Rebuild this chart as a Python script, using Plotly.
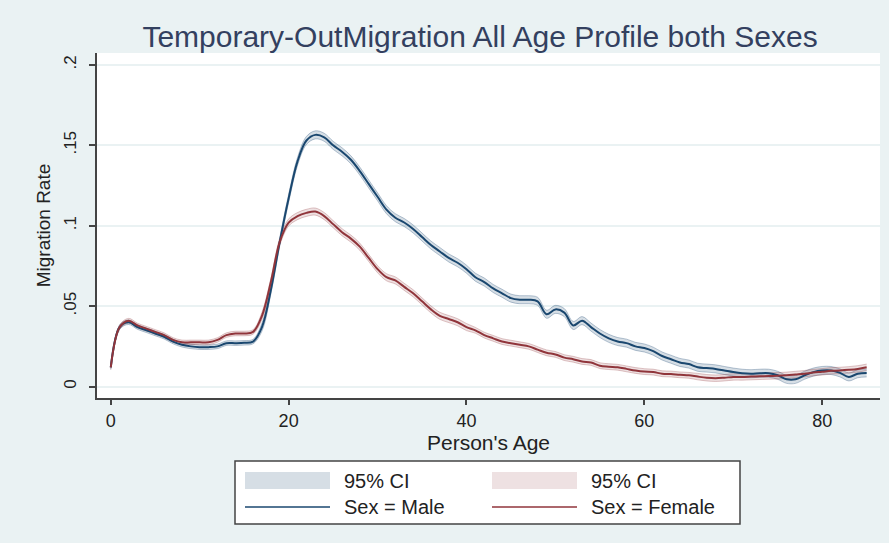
import plotly.graph_objects as go

ages = list(range(0, 86))

male_rate = [0.012, 0.037, 0.040, 0.037, 0.035, 0.033, 0.031, 0.028, 0.026, 0.025,
             0.0245, 0.0245, 0.025, 0.027, 0.027, 0.0272, 0.028, 0.037, 0.060, 0.090,
             0.117, 0.140, 0.153, 0.1565, 0.155, 0.150, 0.146, 0.141, 0.134, 0.126,
             0.118, 0.110, 0.105, 0.102, 0.098, 0.093, 0.088, 0.084, 0.080, 0.077,
             0.073, 0.068, 0.065, 0.061, 0.058, 0.055, 0.054, 0.054, 0.053, 0.045,
             0.048, 0.046, 0.038, 0.041, 0.037, 0.033, 0.030, 0.028, 0.027, 0.025,
             0.024, 0.022, 0.019, 0.017, 0.015, 0.014, 0.012, 0.0115, 0.011, 0.010,
             0.009, 0.0083, 0.008, 0.0083, 0.0083, 0.007, 0.0045, 0.0045, 0.007, 0.009,
             0.010, 0.010, 0.0085, 0.006, 0.008, 0.0085]

female_rate = [0.012, 0.037, 0.041, 0.038, 0.036, 0.034, 0.032, 0.029, 0.0275, 0.0275,
               0.0275, 0.0275, 0.029, 0.032, 0.033, 0.033, 0.034, 0.044, 0.065, 0.090,
               0.102, 0.106, 0.108, 0.1088, 0.106, 0.101, 0.096, 0.092, 0.087, 0.080,
               0.073, 0.068, 0.066, 0.062, 0.058, 0.053, 0.048, 0.044, 0.042, 0.040,
               0.037, 0.035, 0.032, 0.030, 0.028, 0.027, 0.026, 0.025, 0.023, 0.021,
               0.020, 0.018, 0.017, 0.0156, 0.015, 0.013, 0.0124, 0.012, 0.011, 0.010,
               0.0093, 0.009, 0.008, 0.0078, 0.0073, 0.007, 0.0062, 0.0055, 0.0052, 0.0055,
               0.006, 0.006, 0.0062, 0.0064, 0.0066, 0.0067, 0.007, 0.0075, 0.008, 0.0087,
               0.0092, 0.0098, 0.010, 0.0104, 0.011, 0.012]

# 95% CI half-widths by age
male_ci = [0.0014] * 17 + [0.0025] * 44 + [0.0025] * 25
female_ci = [0.0014] * 17 + [0.0022] * 24 + [0.0018] * 25 + [0.0020] * 20

y_ticks = [0, 0.05, 0.1, 0.15, 0.2]
y_tick_labels = ["0", ".05", ".1", ".15", ".2"]
x_ticks = [0, 20, 40, 60, 80]

legend_labels = ["95% CI", "95% CI", "Sex = Male", "Sex = Female"]

MALE = "#1a476f"
FEMALE = "#90353b"
MALE_FILL = "rgba(26,71,111,0.18)"
FEMALE_FILL = "rgba(144,53,59,0.15)"
FONT = "Liberation Sans, Arial, sans-serif"

fig = go.Figure()


def add_band(rate, ci, fillc, edgec, name):
    upper = [r + c for r, c in zip(rate, ci)]
    lower = [r - c for r, c in zip(rate, ci)]
    fig.add_trace(go.Scatter(x=ages, y=upper, mode="lines", line=dict(color=edgec, width=1, shape="spline"),
                             showlegend=False, hoverinfo="skip"))
    fig.add_trace(go.Scatter(x=ages, y=lower, mode="lines", line=dict(color=edgec, width=1, shape="spline"),
                             fill="tonexty", fillcolor=fillc, name=name, showlegend=False, hoverinfo="skip"))


add_band(male_rate, male_ci, MALE_FILL, "rgba(26,71,111,0.30)", legend_labels[0])
add_band(female_rate, female_ci, FEMALE_FILL, "rgba(144,53,59,0.28)", legend_labels[1])

fig.add_trace(go.Scatter(x=ages, y=male_rate, mode="lines", name=legend_labels[2], showlegend=False,
                         line=dict(color=MALE, width=2, shape="spline")))
fig.add_trace(go.Scatter(x=ages, y=female_rate, mode="lines", name=legend_labels[3], showlegend=False,
                         line=dict(color=FEMALE, width=2, shape="spline")))

# plot-area geometry in pixels (for the hand-built Stata-style legend box)
L, R, T, B = 97, 880, 53, 398
W, H = R - L, B - T


def px(x):
    return (x - L) / W


def py(y):
    return (B - y) / H


shapes = [
    dict(type="rect", xref="paper", yref="paper", x0=px(235), x1=px(740), y0=py(524), y1=py(461),
         fillcolor="white", line=dict(color="#444444", width=1.5), layer="above"),
    dict(type="rect", xref="paper", yref="paper", x0=px(245), x1=px(330), y0=py(489), y1=py(472),
         fillcolor=MALE_FILL, line=dict(width=0), layer="above"),
    dict(type="rect", xref="paper", yref="paper", x0=px(492), x1=px(577), y0=py(489), y1=py(472),
         fillcolor=FEMALE_FILL, line=dict(width=0), layer="above"),
    dict(type="line", xref="paper", yref="paper", x0=px(245), x1=px(330), y0=py(507), y1=py(507),
         line=dict(color=MALE, width=1.5), layer="above"),
    dict(type="line", xref="paper", yref="paper", x0=px(492), x1=px(577), y0=py(507), y1=py(507),
         line=dict(color=FEMALE, width=1.5), layer="above"),
]

annotations = []
for label, lx, ly in zip(legend_labels, [342, 589, 342, 589], [481, 481, 507, 507]):
    annotations.append(dict(text=label, xref="paper", yref="paper", x=px(lx), y=py(ly),
                            xanchor="left", yanchor="middle", showarrow=False,
                            font=dict(family=FONT, size=20, color="#222222")))

fig.update_layout(
    width=889, height=543,
    margin=dict(l=L, r=889 - R, t=T, b=543 - B),
    paper_bgcolor="#eaf2f3",
    plot_bgcolor="white",
    font=dict(family=FONT, color="#222222", size=16),
    showlegend=False,
    title=dict(text="Temporary-OutMigration All Age Profile both Sexes",
               x=0.54, xanchor="center", y=0.932, yanchor="middle",
               font=dict(family=FONT, size=30, color="#33405f")),
    xaxis=dict(range=[-1.55, 86.5], tickvals=x_ticks, showgrid=False, zeroline=False, automargin=False,
               showline=True, linecolor="#444444", linewidth=2,
               ticks="outside", ticklen=5, tickwidth=1.5, tickcolor="#444444",
               tickfont=dict(size=18), title=dict(text="Person's Age", standoff=0, font=dict(size=21))),
    yaxis=dict(range=[-0.0071, 0.2074], tickvals=y_ticks, ticktext=y_tick_labels, tickangle=-90,
               showgrid=True, gridcolor="#eaf2f3", gridwidth=1.5, zeroline=False, automargin=False,
               showline=True, linecolor="#444444", linewidth=2, ticklabelstandoff=6,
               ticks="outside", ticklen=6, tickwidth=1.5, tickcolor="#444444",
               tickfont=dict(size=17), title=dict(text="Migration Rate", standoff=6, font=dict(size=19))),
    shapes=shapes,
    annotations=annotations,
)

fig.write_html("out.html", config={"displayModeBar": False},
               post_script="document.body.style.margin='0';")
